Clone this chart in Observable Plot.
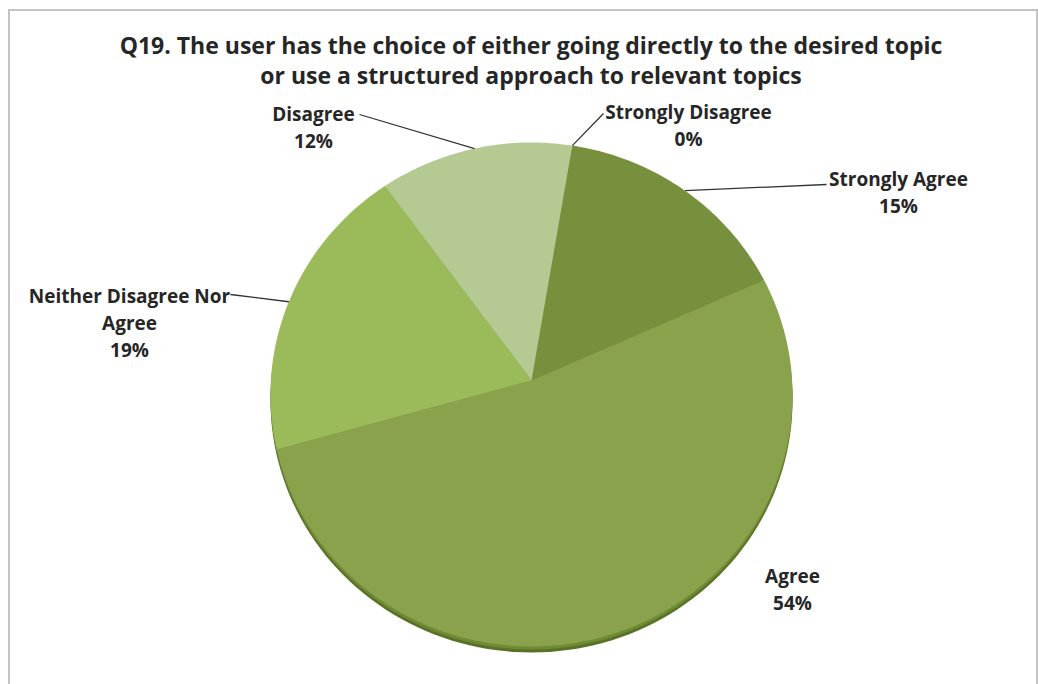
<!DOCTYPE html>
<html>
<head>
<meta charset="utf-8">
<script src="https://cdn.jsdelivr.net/npm/d3@7"></script>
<script src="https://cdn.jsdelivr.net/npm/@observablehq/plot@0.6"></script>
<style>
  html, body { margin: 0; padding: 0; background: #fff; width: 1038px; height: 684px; overflow: hidden; }
  #frame { position: absolute; left: 8px; top: 9px; width: 1026px; height: 700px; border: 2px solid #c4c4c4; border-bottom: none; }
  #title { position: absolute; left: 0; top: 30px; width: 1062px; text-align: center;
           font-family: "Liberation Sans Narrow", "Open Sans", sans-serif; font-weight: bold; font-size: 23px; line-height: 30px; color: #262626; }
  #chart { position: absolute; left: 0; top: 95px; }
</style>
</head>
<body>
<div id="frame"></div>
<div id="title">Q19. The user has the choice of either going directly to the desired topic<br>or use a structured approach to relevant topics</div>
<div id="chart"></div>
<script>
// ---- data ----
const categories = ["Strongly Disagree", "Strongly Agree", "Agree", "Neither Disagree Nor Agree", "Disagree"];
const percents = [0, 15, 54, 19, 12];
const labelNames = ["Strongly Disagree", "Strongly Agree", "Agree", "Neither Disagree Nor\nAgree", "Disagree"];
const sliceColors = ["#6b8535", "#76903d", "#89a24b", "#9bba5a", "#b5c992"];

// ---- layout (page pixels) ----
const CX = 531, CY = 394, RX = 261, RY = 252, SVG_TOP = 95, W = 1038, H = 684 - SVG_TOP;
const toX = px => (px - CX) / RX;
const toY = py => -(py - CY) / RY;
const vertex = {x: 0, y: toY(380)};
const labelPos = {
  "Strongly Disagree": [688, 123],
  "Strongly Agree": [898, 190],
  "Agree": [792, 587],
  "Neither Disagree Nor Agree": [129, 321],
  "Disagree": [313, 125]
};
const leaderStart = {
  "Strongly Disagree": [603, 113],
  "Strongly Agree": [826, 184],
  "Neither Disagree Nor Agree": [230, 294],
  "Disagree": [359, 114]
};

const table = categories.map((c, i) => ({cat: c, pct: percents[i], name: labelNames[i]}));
const arcs = d3.pie().sort(null).value(d => d.pct).startAngle(9 * Math.PI / 180).endAngle(369 * Math.PI / 180)(table);

// polygon points for each slice
const pts = [];
for (const a of arcs) {
  if (a.endAngle - a.startAngle <= 0) continue;
  pts.push({cat: a.data.cat, x: vertex.x, y: vertex.y});
  const n = Math.max(2, Math.ceil((a.endAngle - a.startAngle) / (Math.PI / 180)));
  for (let k = 0; k <= n; k++) {
    const t = a.startAngle + (a.endAngle - a.startAngle) * k / n;
    pts.push({cat: a.data.cat, x: Math.sin(t), y: Math.cos(t)});
  }
  pts.push({cat: a.data.cat, x: vertex.x, y: vertex.y});
}
const shadowPts = d3.range(0, 361, 2).map(d => ({x: Math.sin(d * Math.PI / 180), y: Math.cos(d * Math.PI / 180)}));

const labels = arcs.map(a => {
  const [px, py] = labelPos[a.data.cat];
  return {x: toX(px), y: toY(py), text: a.data.name + "\n" + a.data.pct + "%"};
});
const leaders = arcs.filter(a => leaderStart[a.data.cat]).map(a => {
  const mid = (a.startAngle + a.endAngle) / 2;
  const [px, py] = leaderStart[a.data.cat];
  return {x1: toX(px), y1: toY(py), x2: Math.sin(mid), y2: Math.cos(mid)};
});

const chart = Plot.plot({
  width: W, height: H,
  marginLeft: CX - RX, marginRight: W - (CX + RX),
  marginTop: (CY - SVG_TOP) - RY, marginBottom: H - ((CY - SVG_TOP) + RY),
  x: {domain: [-1, 1], axis: null},
  y: {domain: [-1, 1], axis: null},
  color: {domain: categories, range: sliceColors},
  style: {background: "transparent", overflow: "visible"},
  marks: [
    Plot.line(shadowPts, {x: "x", y: "y", fill: "#5a7226", stroke: "none", dy: 6}),
    Plot.line(shadowPts, {x: "x", y: "y", fill: "#6f8a35", stroke: "none", dy: 3}),
    Plot.line(pts, {x: "x", y: "y", z: "cat", fill: "cat", stroke: "none", curve: "linear"}),
    Plot.link(leaders, {x1: "x1", y1: "y1", x2: "x2", y2: "y2", stroke: "#333", strokeWidth: 1.3}),
    Plot.text(labels, {x: "x", y: "y", text: "text", fontFamily: "'Liberation Sans Narrow', 'Open Sans', sans-serif",
      fontWeight: "bold", fontSize: 19, fill: "#262626", lineHeight: 1.42, textAnchor: "middle", lineAnchor: "middle"})
  ]
});
document.getElementById("chart").appendChild(chart);
</script>
</body>
</html>
